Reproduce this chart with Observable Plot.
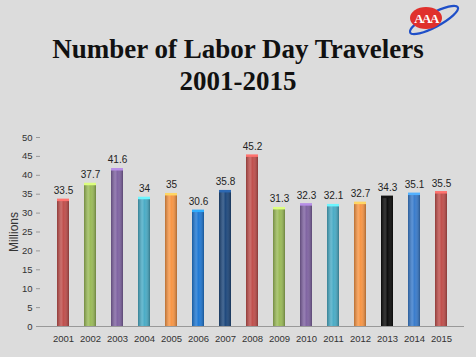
<!DOCTYPE html>
<html>
<head>
<meta charset="utf-8">
<script src="https://cdn.jsdelivr.net/npm/d3@7"></script>
<script src="https://cdn.jsdelivr.net/npm/@observablehq/plot@0.6"></script>
<style>
  html, body { margin: 0; padding: 0; background: #dcdcdc; }
  #wrap { position: relative; width: 476px; height: 357px; overflow: hidden; background: #dcdcdc; }
  #title { position: absolute; top: 33px; left: 0; width: 476px; text-align: center;
    font-family: "Liberation Serif", serif; font-weight: bold; font-size: 27px; line-height: 32px; color: #111; }
  #logo { position: absolute; top: 0; left: 0; }
  #chart { position: absolute; top: 110px; left: 0; }
  [aria-label="y-axis label"] { font-size: 12px; }
</style>
</head>
<body>
<div id="wrap">
  <svg id="logo" width="476" height="40">
    <ellipse cx="434" cy="20" rx="27" ry="7" transform="rotate(-28 434 20)" fill="none" stroke="#1f4fc8" stroke-width="2.2"/>
    <ellipse cx="426" cy="18" rx="16" ry="11" fill="#e0302c"/>
    <text x="426" y="22.5" text-anchor="middle" font-family="Liberation Serif, serif" font-weight="bold" font-size="13" fill="#fff" letter-spacing="-1.5">AAA</text>
  </svg>
  <div id="title">Number of Labor Day Travelers<br>2001-2015</div>
  <div id="chart"></div>
</div>
<script>
const years = ["2001","2002","2003","2004","2005","2006","2007","2008","2009","2010","2011","2012","2013","2014","2015"];
const travelers = [33.5, 37.7, 41.6, 34, 35, 30.6, 35.8, 45.2, 31.3, 32.3, 32.1, 32.7, 34.3, 35.1, 35.5];
const colors = ["#c0504d","#9bbb59","#8064a2","#4bacc6","#f79646","#2079d4","#1f497d","#c0504d","#9bbb59","#8064a2","#4bacc6","#f79646","#0d0d0d","#3a7ccc","#c0504d"];
const yTicks = [0,5,10,15,20,25,30,35,40,45,50];

const data = years.map((y, i) => ({year: y, value: travelers[i], color: colors[i],
  cap: d3.color(colors[i]).brighter(1).formatHex()}));

const defs = () => {
  const ns = "http://www.w3.org/2000/svg";
  const d = document.createElementNS(ns, "defs");
  const g = document.createElementNS(ns, "linearGradient");
  g.setAttribute("id", "shade");
  g.setAttribute("x1", "0"); g.setAttribute("x2", "1"); g.setAttribute("y1", "0"); g.setAttribute("y2", "0");
  [["0", "#000", 0.25], ["0.35", "#fff", 0.18], ["0.55", "#fff", 0.0], ["1", "#000", 0.3]].forEach(([o, c, a]) => {
    const s = document.createElementNS(ns, "stop");
    s.setAttribute("offset", o); s.setAttribute("stop-color", c); s.setAttribute("stop-opacity", a);
    g.appendChild(s);
  });
  d.appendChild(g);
  return d;
};

const chart = Plot.plot({
  width: 476,
  height: 247,
  marginLeft: 40,
  marginRight: 12,
  marginTop: 27,
  marginBottom: 31,
  style: {background: "transparent", fontFamily: "'Liberation Sans', sans-serif", fontSize: "9.5px", color: "#333"},
  x: {domain: years, padding: 0.57, label: null},
  y: {domain: [0, 50], label: null},
  marks: [
    defs,
    Plot.barY(data, {x: "year", y: "value", fill: "color"}),
    Plot.barY(data, {x: "year", y: "value", fill: "url(#shade)"}),
    Plot.tickY(data, {x: "year", y: "value", stroke: "cap", strokeWidth: 2.5}),
    Plot.text(data, {x: "year", y: "value", text: d => String(d.value), dy: -9, fill: "#222", fontSize: 10}),
    Plot.axisY({ticks: yTicks, tickSize: 4, stroke: "#999", tickPadding: 4, label: "Millions", labelAnchor: "center", labelArrow: "none", labelOffset: 31, fill: "#333"}),
    Plot.ruleX([0], {frameAnchor: "left", stroke: "#999"}),
    Plot.ruleY([0], {stroke: "#999"}),
    Plot.axisX({tickSize: 0, tickPadding: 9, fill: "#333"})
  ]
});
document.getElementById("chart").appendChild(chart);
</script>
</body>
</html>
